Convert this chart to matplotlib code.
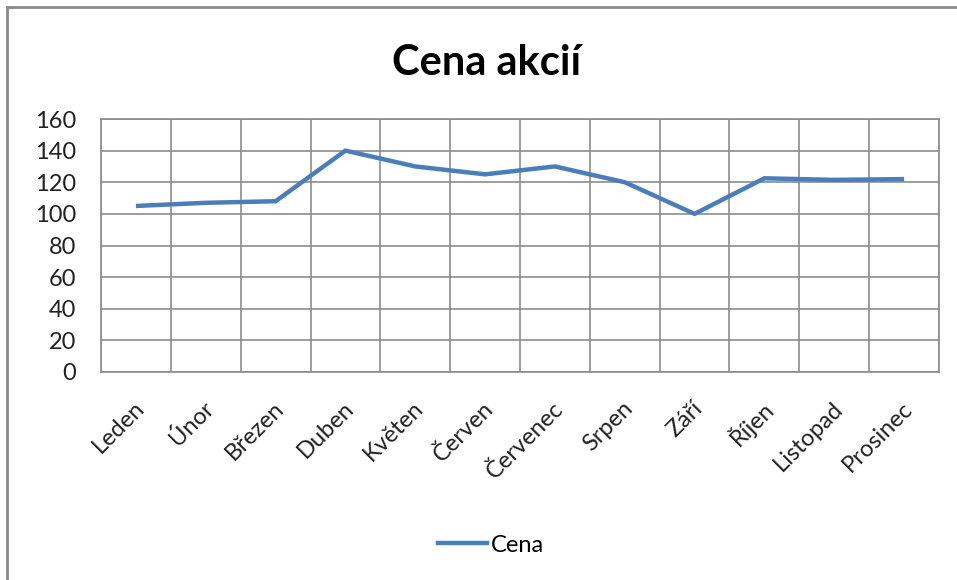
import numpy as np
import matplotlib
matplotlib.use("Agg")
from matplotlib import pyplot as plt
from matplotlib.lines import Line2D
import matplotlib.transforms as mtransforms

plt.rcParams['font.family'] = ['Lato', 'DejaVu Sans']

months = ['Leden', 'Únor', 'Březen', 'Duben', 'Květen', 'Červen',
          'Červenec', 'Srpen', 'Září', 'Říjen', 'Listopad', 'Prosinec']
price = [105, 107, 108, 140, 130, 125, 130, 120, 100, 122.5, 121.5, 122]
yticks = [0, 20, 40, 60, 80, 100, 120, 140, 160]

LINE_COLOR = '#4A7EBB'
GRID_COLOR = '#8c8c8c'

W, H = 957, 580
fig = plt.figure(figsize=(W / 100, H / 100), dpi=100)
ax = fig.add_axes([101 / W, 1 - 372 / H, (939 - 101) / W, (372 - 119) / H])

x = np.arange(len(months))
ax.plot(x, price, color=LINE_COLOR, linewidth=3.2, solid_capstyle='butt',
        solid_joinstyle='miter', label='Cena', zorder=3)

ax.set_xlim(-0.5, len(months) - 0.5)
ax.set_ylim(0, 160)
ax.set_yticks(yticks)
ax.set_yticklabels([str(v) for v in yticks], fontsize=17, color='#222222')

# vertical grid lines sit on category boundaries
ax.set_xticks(np.arange(-0.5, len(months), 1.0), minor=True)
ax.set_xticks(x)
ax.set_xticklabels([])

# rotated month labels, end of the text just under each category
offset = mtransforms.ScaledTranslation(5 / 100, -33 / 100, fig.dpi_scale_trans)
for i, m in enumerate(months):
    ax.text(i, 0, m, transform=ax.get_xaxis_transform() + offset,
            fontsize=17, rotation=45, ha='right', va='center',
            rotation_mode='anchor', color='#222222', clip_on=False)

ax.grid(True, axis='y', color=GRID_COLOR, linewidth=1.2)
ax.grid(True, axis='x', which='minor', color=GRID_COLOR, linewidth=1.2)
ax.tick_params(axis='both', which='both', length=0)
ax.tick_params(axis='y', pad=18)
ax.set_axisbelow(True)
for side in ['top', 'right', 'left', 'bottom']:
    ax.spines[side].set_color(GRID_COLOR)
    ax.spines[side].set_linewidth(1.2)

fig.text(487 / W, 1 - 63 / H, 'Cena akcií', fontsize=30, fontweight='bold',
         ha='center', va='center', color='black')

fig.legend(handles=[Line2D([], [], color=LINE_COLOR, linewidth=3.2)],
           labels=['Cena'], loc='center', bbox_to_anchor=(491 / W, 1 - 545 / H),
           frameon=False, fontsize=17, handlelength=2.1, handletextpad=0.15)

# outer chart border (top and left visible)
fig.add_artist(Line2D([7 / W, 7 / W], [0, 1 - 7 / H], color='#8a8a8a', linewidth=2,
                      transform=fig.transFigure))
fig.add_artist(Line2D([7 / W, 1], [1 - 7 / H, 1 - 7 / H], color='#8a8a8a', linewidth=2,
                      transform=fig.transFigure))

fig.savefig('out.png', dpi=100)
